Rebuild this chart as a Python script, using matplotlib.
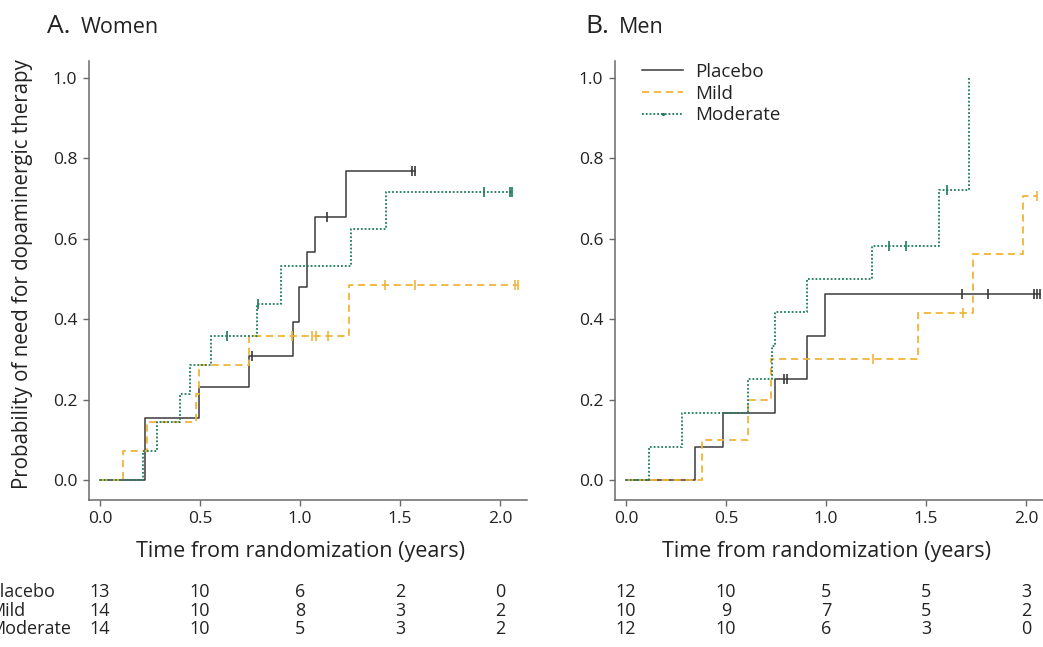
import numpy as np
import matplotlib

matplotlib.use("Agg")
import matplotlib.pyplot as plt
from matplotlib.lines import Line2D
from matplotlib.transforms import blended_transform_factory

plt.rcParams["font.family"] = ["Open Sans", "DejaVu Sans"]

# ---- data -----------------------------------------------------------------
# Women (panel A): step times (years) and cumulative probability after step
women_placebo_t = [0, 0.225, 0.495, 0.745, 0.967, 0.995, 1.033, 1.075, 1.228, 1.575]
women_placebo_p = [0, 0.155, 0.232, 0.309, 0.394, 0.481, 0.566, 0.654, 0.769, 0.769]
women_placebo_cens = [0.76, 1.133, 1.558, 1.575]

women_mild_t = [0, 0.117, 0.233, 0.478, 0.495, 0.745, 1.247, 2.092]
women_mild_p = [0, 0.072, 0.144, 0.215, 0.287, 0.357, 0.485, 0.485]
women_mild_cens = [0.962, 1.058, 1.078, 1.142, 1.425, 1.575, 2.075, 2.092]

women_mod_t = [0, 0.213, 0.287, 0.40, 0.452, 0.553, 0.783, 0.903, 1.253, 1.43, 2.062]
women_mod_p = [0, 0.072, 0.144, 0.215, 0.287, 0.357, 0.438, 0.531, 0.624, 0.717, 0.717]
women_mod_cens = [0.637, 0.79, 1.922, 2.05, 2.062]

# Men (panel B)
men_placebo_t = [0, 0.345, 0.487, 0.745, 0.907, 0.995, 2.07]
men_placebo_p = [0, 0.083, 0.167, 0.25, 0.358, 0.463, 0.463]
men_placebo_cens = [0.79, 0.807, 1.678, 1.812, 2.042, 2.057, 2.07]

men_mild_t = [0, 0.382, 0.612, 0.723, 1.458, 1.737, 1.983, 2.057]
men_mild_p = [0, 0.1, 0.2, 0.3, 0.416, 0.562, 0.707, 0.707]
men_mild_cens = [1.233, 1.687, 2.057]

men_mod_t = [0, 0.117, 0.278, 0.612, 0.73, 0.745, 0.907, 1.232, 1.565, 1.717]
men_mod_p = [0, 0.083, 0.167, 0.25, 0.333, 0.417, 0.5, 0.583, 0.72, 1.0]
men_mod_cens = [1.317, 1.40, 1.603]

# numbers at risk
risk_times = [0.0, 0.5, 1.0, 1.5, 2.0]
groups = ["Placebo", "Mild", "Moderate"]
women_at_risk = [[13, 10, 6, 2, 0], [14, 10, 8, 3, 2], [14, 10, 5, 3, 2]]
men_at_risk = [[12, 10, 5, 5, 3], [10, 9, 7, 5, 2], [12, 10, 6, 3, 0]]

# ---- styles ----------------------------------------------------------------
STYLE = {
    "Placebo": dict(color="#3a3a3a", lw=1.1, ls="-"),
    "Mild": dict(color="#f0b43c", lw=1.3, ls=(0, (4, 2.6))),
    "Moderate": dict(color="#1d7a5a", lw=1.3, ls=(0, (1, 1.1))),
}
TXT = "#222222"
W, H = 1043, 647


def step_value(t, p, x):
    """Value of a right-continuous step curve at x."""
    i = np.searchsorted(t, x, side="right") - 1
    return np.asarray(p)[i]


def draw_panel(ax, curves):
    for name, t, p, cens in curves:
        st = STYLE[name]
        ax.plot(t, p, drawstyle="steps-post", color=st["color"], lw=st["lw"],
                ls=st["ls"])
        ax.plot(cens, step_value(t, p, cens), ls="none", marker="|",
                ms=7, mew=1.2, color=st["color"])
    ax.set_xlim(-0.055, 2.135)
    ax.set_ylim(-0.0485, 1.042)
    ax.set_xticks([0.0, 0.5, 1.0, 1.5, 2.0])
    ax.set_yticks([0.0, 0.2, 0.4, 0.6, 0.8, 1.0])
    ax.xaxis.set_major_formatter(plt.FormatStrFormatter("%.1f"))
    ax.yaxis.set_major_formatter(plt.FormatStrFormatter("%.1f"))
    for s in ("top", "right"):
        ax.spines[s].set_visible(False)
    for s in ("left", "bottom"):
        ax.spines[s].set_color("#6a6a6a")
        ax.spines[s].set_linewidth(1.1)
    ax.tick_params(direction="out", length=4.5, width=1.0, color="#6a6a6a",
                   labelsize=12.5, labelcolor=TXT, pad=4)
    ax.set_xlabel("Time from randomization (years)", fontsize=15.5, color=TXT)
    ax.xaxis.set_label_coords(0.484, -0.095)


def at_risk(ax, table, with_names):
    trans = blended_transform_factory(ax.transData, ax.figure.transFigure)
    for row, vals in enumerate(table):
        yb = 1 - (597 + row * 18.5) / H
        for x, v in zip(risk_times, vals):
            ax.text(x, yb, str(v), transform=trans, ha="center", va="baseline",
                    fontsize=13, color=TXT)
        if with_names:
            ax.figure.text(-11 / W, yb, groups[row], ha="left", va="baseline",
                           fontsize=13, color=TXT)


fig = plt.figure(figsize=(W / 100, H / 100), dpi=100)
ax1 = fig.add_axes([89 / W, 1 - 499.5 / H, 438 / W, 438.5 / H])
ax2 = fig.add_axes([615 / W, 1 - 499.5 / H, 438 / W, 438.5 / H])

draw_panel(ax1, [
    ("Placebo", women_placebo_t, women_placebo_p, women_placebo_cens),
    ("Mild", women_mild_t, women_mild_p, women_mild_cens),
    ("Moderate", women_mod_t, women_mod_p, women_mod_cens),
])
draw_panel(ax2, [
    ("Placebo", men_placebo_t, men_placebo_p, men_placebo_cens),
    ("Mild", men_mild_t, men_mild_p, men_mild_cens),
    ("Moderate", men_mod_t, men_mod_p, men_mod_cens),
])

ax1.set_ylabel("Probability of need for dopaminergic therapy", fontsize=14.8,
               color=TXT)
ax1.yaxis.set_label_coords(-0.128, 0.515)

# panel titles
for x_letter, x_word, letter, word in [(47, 81, "A.", "Women"), (585, 619, "B.", "Men")]:
    fig.text(x_letter / W, 1 - 33 / H, letter, fontsize=19, color=TXT,
             va="baseline")
    fig.text(x_word / W, 1 - 33 / H, word, fontsize=15.5, color=TXT,
             va="baseline")

# legend in panel B
handles = [
    Line2D([], [], color=STYLE[g]["color"], lw=STYLE[g]["lw"], ls=STYLE[g]["ls"],
           marker="." if g == "Moderate" else None, ms=2.5)
    for g in groups
]
ax2.legend(handles, groups, loc="upper left",
           bbox_to_anchor=(27 / 438, 1 - 2 / 438.5),
           frameon=False, fontsize=13.5, borderpad=0, borderaxespad=0,
           handlelength=2.2, handletextpad=0.65, labelspacing=0.2,
           labelcolor=TXT)

at_risk(ax1, women_at_risk, True)
at_risk(ax2, men_at_risk, False)

fig.savefig("out.png", dpi=100)
